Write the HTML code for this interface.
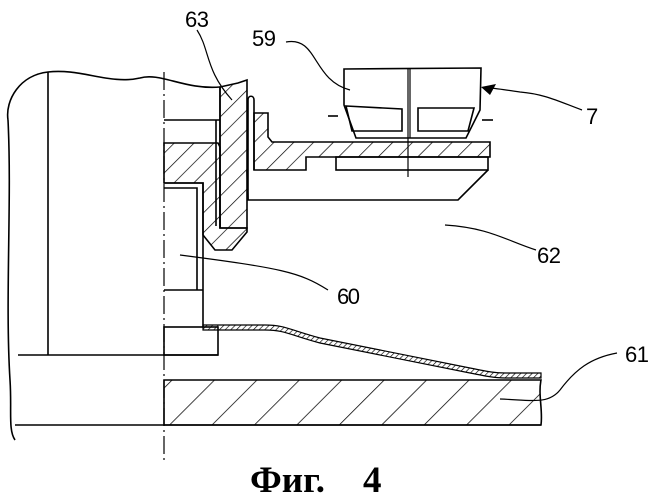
<!DOCTYPE html>
<html><head><meta charset="utf-8"><style>
html,body{margin:0;padding:0;background:#fff;}
svg{display:block}
text.l{font-family:"Liberation Sans",sans-serif;font-size:22px;fill:#000}
text.c{font-family:"Liberation Serif",serif;font-size:37px;font-weight:bold;fill:#000}
</style></head><body>
<svg width="652" height="500" viewBox="0 0 652 500" xmlns="http://www.w3.org/2000/svg">
<defs>
<pattern id="h" patternUnits="userSpaceOnUse" width="30" height="30" patternTransform="rotate(45)">
<line x1="0" y1="0" x2="0" y2="30" stroke="#000" stroke-width="1.5"/></pattern>
<pattern id="hm" patternUnits="userSpaceOnUse" width="14" height="14" patternTransform="rotate(45)">
<line x1="0" y1="0" x2="0" y2="14" stroke="#000" stroke-width="1.4"/></pattern>
<pattern id="hs" patternUnits="userSpaceOnUse" width="4" height="4" patternTransform="rotate(45)">
<line x1="0" y1="0" x2="0" y2="4" stroke="#000" stroke-width="1.3"/></pattern>
</defs>
<g fill="none" stroke="#000" stroke-width="1.6">
<path d="M8,120 C5,100 20,75 48,72 C80,68 110,85 140,78 C160,72 185,90 220,87"/>
<path d="M8,120 C12,200 5,300 10,380 C12,410 8,430 15,440"/>
<line x1="48" y1="72" x2="48" y2="355"/>
<line x1="18" y1="355" x2="218" y2="355"/>
<line x1="15" y1="425" x2="541" y2="425"/>
<line x1="164" y1="72" x2="164" y2="460" stroke-dasharray="18,4,2,4" stroke-width="1.2"/>
<path d="M164,380 L541,380 C538,395 543,410 541,425 L164,425 Z" fill="url(#h)"/>
<path d="M203,325 L265,325 C285,325 290,330 320,338 L470,368 C490,372 495,373 505,373 L541,373 L541,378 L505,378 C495,378 485,376 470,373 L320,343 C290,335 285,330 265,330 L203,330 Z" fill="url(#hs)" stroke-width="1.2"/>
<rect x="164" y="327" width="54" height="28"/>
<path d="M164,183 L203,183 L203,327"/>
<path d="M164,188 L197,188 L197,290"/>
<line x1="164" y1="290" x2="203" y2="290"/>
<line x1="164" y1="120" x2="220" y2="120"/>
<path d="M164,143 L218,143 L220,147 L220,228 L247,228 L247,232 L232,250 L215,250 L203,235 L203,183 L164,183 Z" fill="url(#hm)"/>
<path d="M220,87 L238,83 L247,80 L247,228 L220,228 Z" fill="url(#hm)"/>
<line x1="216" y1="120" x2="216" y2="226"/>
<line x1="220" y1="87" x2="220" y2="228"/>
<path d="M248,200 L248,100 C248,95 254,95 254,100 L254,170"/>
<path d="M254,113 L268,113 L268,137 L272,142 L490,142 L490,157 L306,157 L306,170 L254,170 Z" fill="url(#hm)"/>
<rect x="336" y="157" width="152" height="13"/>
<path d="M247,170 L248,200 L458,200 L488,170"/>
<line x1="408" y1="69" x2="408" y2="177" stroke-width="1.2"/>
<path d="M344,69 L481,68 L480,110 L466,138 L356,138 L344,105 Z"/>
<line x1="410" y1="69" x2="410" y2="138" stroke-width="1.2"/>
<path d="M346,106 L402,109 L402,131 L352,131 Z M418,108 L474,108 L468,131 L418,131 Z"/>
<line x1="328" y1="116" x2="338" y2="116"/><line x1="482" y1="120" x2="493" y2="120"/>
<path d="M197,30 C210,50 205,70 232,100" stroke-width="1.2"/>
<path d="M286,42 C318,36 312,80 350,90" stroke-width="1.2"/>
<path d="M582,110 C560,102 545,94 520,92 C505,90 495,88 488,88" stroke-width="1.2"/>
<path d="M536,250 C505,240 490,228 445,225" stroke-width="1.2"/>
<path d="M328,290 C300,272 280,268 180,255" stroke-width="1.2"/>
<path d="M617,353 C590,358 575,370 560,390 C548,405 530,400 500,399" stroke-width="1.2"/>
</g>
<path d="M481,87 L496,84 L490,95 Z" fill="#000"/>
<text class="l" x="185" y="27" textLength="24">63</text>
<text class="l" x="252" y="46" textLength="24">59</text>
<text class="l" x="586" y="124">7</text>
<text class="l" x="537" y="263" textLength="24">62</text>
<text class="l" x="337" y="304" textLength="23">60</text>
<text class="l" x="625" y="362" textLength="24">61</text>
<text class="c" x="250" y="492">Фиг.</text>
<text class="c" x="363" y="492">4</text>
</svg>
</body></html>
